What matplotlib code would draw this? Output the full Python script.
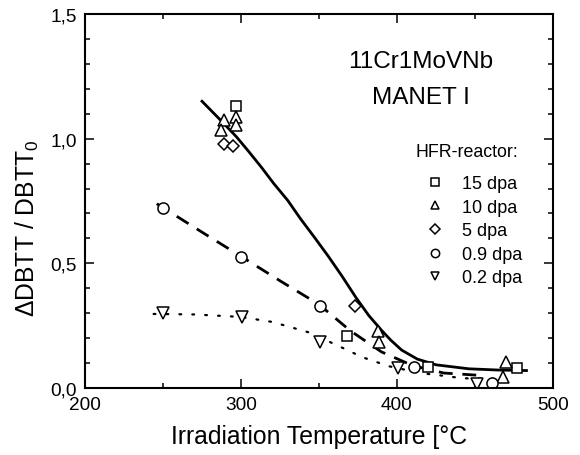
import matplotlib
matplotlib.use("Agg")
import matplotlib.pyplot as plt
from matplotlib.ticker import MultipleLocator, FixedLocator, FixedFormatter

plt.rcParams['font.family'] = ['Liberation Sans', 'DejaVu Sans']
plt.rcParams['mathtext.fontset'] = 'custom'
plt.rcParams['mathtext.rm'] = 'Liberation Sans'
plt.rcParams['mathtext.default'] = 'regular'

# ---- data ----
sq_x = [297, 368, 420, 477]
sq_y = [1.13, 0.208, 0.083, 0.080]

tri_x = [289, 297, 287, 297, 388, 388.5, 468, 470]
tri_y = [1.074, 1.087, 1.033, 1.053, 0.230, 0.183, 0.045, 0.103]

dia_x = [289, 295, 373]
dia_y = [0.980, 0.969, 0.328]

cir_x = [250, 300, 350.5, 411, 461]
cir_y = [0.722, 0.525, 0.327, 0.083, 0.022]

dtri_x = [250, 300.5, 350.5, 400.5, 451.5]
dtri_y = [0.300, 0.284, 0.183, 0.079, 0.016]

fit_solid_x = [275, 286, 297, 305, 313, 321, 330, 338, 347, 356, 364.5, 374,
               382, 390, 396, 403, 413, 425, 446, 465, 483]
fit_solid_y = [1.15, 1.08, 1.008, 0.948, 0.886, 0.820, 0.752, 0.680, 0.605,
               0.528, 0.451, 0.360, 0.290, 0.232, 0.192, 0.152, 0.116, 0.093,
               0.077, 0.072, 0.070]

fit_dash_x = [246, 275, 300, 325, 350, 370, 390, 410, 430, 455]
fit_dash_y = [0.739, 0.625, 0.528, 0.430, 0.335, 0.230, 0.145, 0.090, 0.060, 0.050]

fit_dot_x = [244, 270, 300, 320, 343, 361, 378, 395, 415, 431, 442, 475]
fit_dot_y = [0.297, 0.295, 0.285, 0.265, 0.224, 0.173, 0.123, 0.087, 0.060, 0.048, 0.039, 0.036]

legend_labels = ['15 dpa', '10 dpa', '5 dpa', '0.9 dpa', '0.2 dpa']
x_ticks = [200, 300, 400, 500]
y_ticks = [0.0, 0.5, 1.0, 1.5]
y_tick_labels = ['0,0', '0,5', '1,0', '1,5']

fig = plt.figure(figsize=(5.8, 4.56), dpi=100)
ax = fig.add_axes([85/580, 67/456, 468/580, 374/456])

ax.plot(fit_solid_x, fit_solid_y, color='black', lw=2.0, ls='-',
        solid_joinstyle='round')
ax.plot(fit_dash_x, fit_dash_y, color='black', lw=2.0, ls=(0, (5, 3.5)))
ax.plot(fit_dot_x, fit_dot_y, color='black', lw=1.6, ls=(0, (0.8, 5)),
        dash_capstyle='round')

mk = dict(ls='none', mfc='white', mec='black', mew=1.1, color='black')
h1, = ax.plot(sq_x, sq_y, marker='s', ms=7.5, label=legend_labels[0], **mk)
h2, = ax.plot(tri_x, tri_y, marker='^', ms=8.5, label=legend_labels[1], **mk)
h3, = ax.plot(dia_x, dia_y, marker='D', ms=6.5, label=legend_labels[2], **mk)
h4, = ax.plot(cir_x, cir_y, marker='o', ms=8, label=legend_labels[3], **mk)
h5, = ax.plot(dtri_x, dtri_y, marker='v', ms=8.5, label=legend_labels[4], **mk)

ax.set_xlim(200, 500)
ax.set_ylim(0, 1.5)
ax.xaxis.set_major_locator(FixedLocator(x_ticks))
ax.xaxis.set_minor_locator(MultipleLocator(50))
ax.yaxis.set_major_locator(FixedLocator(y_ticks))
ax.yaxis.set_major_formatter(FixedFormatter(y_tick_labels))
ax.yaxis.set_minor_locator(MultipleLocator(0.1))

ax.tick_params(which='both', direction='in', top=True, right=True,
               width=1.1, labelsize=13.7, pad=6)
ax.tick_params(which='major', length=6.5)
ax.tick_params(which='minor', length=3.8)
for s in ax.spines.values():
    s.set_linewidth(1.5)

ax.set_xlabel('Irradiation Temperature [°C', fontsize=17.8, labelpad=8)
ax.set_ylabel('ΔDBTT / DBTT$_0$', fontsize=17.8, labelpad=10)
ax.yaxis.set_label_coords(-0.094, 0.43)

ax.text(415.5, 1.31, '11Cr1MoVNb', fontsize=17.5, ha='center', va='center')
ax.text(415.5, 1.169, 'MANET I', fontsize=17.5, ha='center', va='center')
ax.text(412, 0.948, 'HFR-reactor:', fontsize=12.8, ha='left', va='center',
        transform=ax.transData)

leg = ax.legend(handles=[h1, h2, h3, h4, h5], loc='upper left',
                bbox_to_anchor=(0.7276, 0.5696), frameon=False,
                fontsize=13, handlelength=1.0, handletextpad=1.0,
                labelspacing=0.367, borderpad=0, borderaxespad=0,
                markerscale=0.75)

fig.savefig('out.png', dpi=100)
